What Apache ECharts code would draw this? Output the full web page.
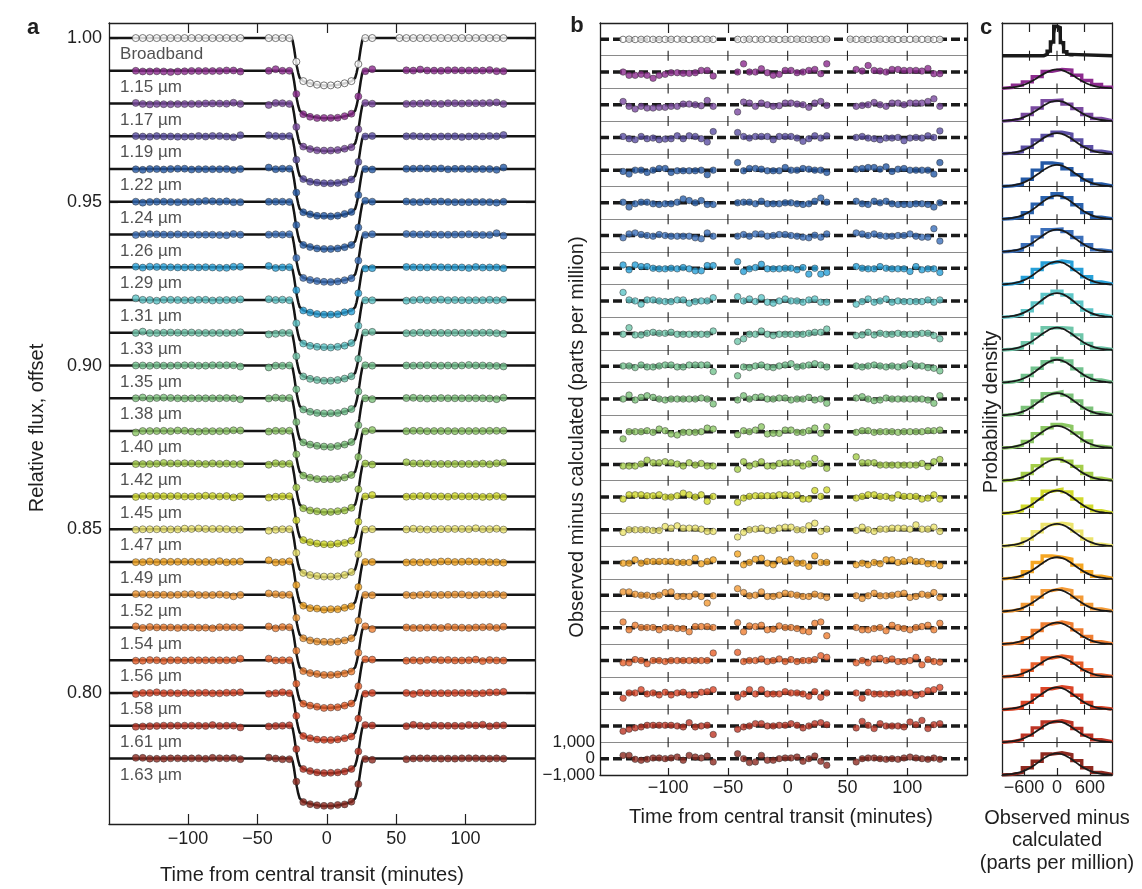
<!DOCTYPE html>
<html><head><meta charset="utf-8">
<script src="https://cdn.jsdelivr.net/npm/echarts@6/dist/echarts.min.js"></script>
<style>html,body{margin:0;padding:0;background:#fff;}#c{width:1142px;height:889px;}</style>
</head><body><div id="c"></div>
<script>
// ---------------- DATA ----------------
const channels = ['Broadband','1.15 µm','1.17 µm','1.19 µm','1.22 µm','1.24 µm','1.26 µm','1.29 µm','1.31 µm','1.33 µm','1.35 µm','1.38 µm','1.40 µm','1.42 µm','1.45 µm','1.47 µm','1.49 µm','1.52 µm','1.54 µm','1.56 µm','1.58 µm','1.61 µm','1.63 µm'];
const colors = ['#ffffff','#8c2b8e','#7a4aa0','#5a4ea3','#2459a5','#2a62ad','#3b6fba','#27a0d8','#5ec6c8','#6fc6aa','#73c38f','#7cc27a','#8cc764','#a4cd4a','#d1da2c','#ebe36d','#f5a623','#f39a36','#ef7e31','#e9602b','#db4527','#bd3424','#8f2a20'];
const baselines = [1.00,0.99,0.98,0.97,0.96,0.95,0.94,0.93,0.92,0.91,0.90,0.89,0.88,0.87,0.86,0.85,0.84,0.83,0.82,0.81,0.80,0.79,0.78];
const depths = [0.01445,0.0145,0.01445,0.0144,0.01445,0.0144,0.0145,0.01445,0.0145,0.0146,0.0147,0.0148,0.0148,0.0148,0.0147,0.0146,0.0146,0.0145,0.0145,0.0145,0.0144,0.0145,0.0145];

// observation times (minutes from central transit)
const tG1 = [-137.7,-132.7,-127.6,-122.6,-117.6,-112.6,-107.5,-102.5,-97.5,-92.4,-87.4,-82.4,-77.3,-72.3,-67.3,-62.3];
const tG2 = [-41.9,-36.9,-32.0,-27.0,-22.0,-17.0,-12.1,-7.1,-2.1,2.8,7.8,12.8,17.7,22.7,27.7,32.7];
const tG3bb = [52.3,57.3,62.3,67.3,72.3,77.3,82.3,87.3,92.3,97.3,102.3,107.3,112.3,117.3,122.3,127.3];
const tG3 = [57.3,62.3,67.3,72.3,77.3,82.3,87.3,92.3,97.3,102.3,107.3,112.3,117.3,122.3,127.3];
// fraction of transit depth at the second-visit times
const fracG2 = [0,0,0,0,0.5,0.91,0.955,0.985,1,1,0.985,0.955,0.91,0.55,0,0];
// transit model shape (fraction of depth)
const modelT = [-157,-25.6,-24.6,-23.6,-22.6,-21.6,-20.6,-19.6,-18.6,-17,-14,-10,-6,-2,0.4,3,7,11,15,18,19.4,20.4,21.4,22.4,23.4,24.4,25.4,26.4,150];
const modelFrac = [0,0,0.06,0.22,0.42,0.6,0.74,0.84,0.88,0.91,0.94,0.97,0.99,1.0,1.0,1.0,0.99,0.97,0.94,0.91,0.88,0.84,0.74,0.6,0.42,0.22,0.06,0,0];

// residuals, observed minus calculated (ppm), visit 1, visit 2, visit 3
const resid = [
 [0,10,-10,0,10,0,-10,0,0,10,0,-10,0,10,0,0, 0,-10,10,0,0,10,0,-10,0,0,10,0,0,-10,0,10, 10,0,0,-10,0,10,0,0,-10,0,0,10,0,0,-10,0],
 [0,-200,-200,-140,-200,-380,-200,-140,-40,-40,-80,-80,-40,100,100,-240, 0,500,0,0,200,-40,-200,-140,100,100,-40,0,100,160,-100,500, 160,60,400,100,60,0,160,160,100,100,100,60,220,-100,-100],
 [200,-100,-260,-100,-200,-200,-160,-160,-100,-100,40,40,0,-60,260,-100, -440,160,100,-100,100,0,-100,-60,100,100,40,0,-160,100,200,-40, -100,-40,0,140,0,-100,100,100,0,100,100,100,200,360,-100],
 [60,-80,-140,60,-80,-40,-140,-100,-80,100,-80,100,60,-80,-280,360, 300,60,-40,60,60,60,-140,60,60,60,-40,-240,-80,100,-40,100, 0,60,-40,-80,-140,-40,-40,0,-200,-40,0,-40,100,0,400],
 [-80,-240,0,0,-140,0,100,100,-140,-40,-40,-40,-40,0,-280,0, 460,-40,100,100,60,-40,-40,-40,160,0,0,100,60,0,0,-140, 60,100,160,160,60,200,-80,60,100,0,0,0,0,-240,460],
 [40,-260,-60,40,40,-60,-100,-60,-60,40,240,140,0,140,-100,-100, 0,40,40,-60,100,-60,-60,-60,0,0,-60,-100,-60,100,300,40, 100,-60,-100,100,0,100,-60,-100,-100,-100,-60,-60,-100,-260,0],
 [-140,100,160,60,0,-40,60,0,-40,-40,-40,-40,-140,-200,160,-40, -40,60,-40,100,100,-40,0,60,60,0,-40,-100,-140,20,-100,100, 160,100,0,100,0,-40,-40,0,0,100,-40,-100,-100,420,-340],
 [200,-100,200,100,100,0,-40,-40,0,-40,40,-40,-160,-160,160,160, 400,-200,-40,40,240,-40,-40,-40,0,0,-100,40,-360,0,-360,-260, 100,0,-40,-40,100,0,-40,-40,-40,-200,100,-100,-40,-40,-260],
 [520,60,0,-200,60,60,0,-40,-40,60,60,-140,-40,0,0,200, 260,0,120,-40,200,-80,-140,0,120,0,0,-80,60,120,-80,-80, -200,-40,120,-80,0,120,-80,0,-40,-40,-40,-40,60,-80,60],
 [-40,360,-80,-80,20,80,20,20,80,-40,-40,-40,-40,-40,-40,160, -480,-320,-40,-40,160,-40,-120,-40,-40,-40,-40,-40,20,80,80,280, -120,-80,80,-80,20,-40,-40,20,-40,-40,-40,20,20,-120,-320],
 [20,20,-80,80,-40,-40,20,80,80,-40,-40,80,80,80,80,-320, -580,-40,-80,20,80,-40,-80,20,80,160,-40,20,80,160,80,-40, 20,-40,20,80,20,-40,20,-40,20,160,20,20,-80,-120,-280],
 [0,240,-60,100,200,100,0,-60,0,0,0,0,0,60,0,-300, -60,200,0,100,140,0,0,60,60,-60,0,0,100,-60,0,-260, 60,140,0,-100,-60,60,0,0,0,0,0,0,-60,-260,200],
 [-440,0,0,0,60,-40,160,60,-140,-200,-40,-40,-40,0,220,160, -180,60,0,100,300,-140,-100,-100,100,100,-40,-40,60,220,-100,300, -40,60,60,-40,0,0,0,-40,0,0,0,0,60,60,100],
 [-100,-100,-100,20,260,100,100,160,100,20,-100,100,-40,60,-100,-100, -300,160,-100,20,160,-100,-100,60,100,100,100,-100,20,360,60,-240, 460,100,100,100,-40,-40,-40,-40,-40,-40,-40,60,-140,160,300],
 [-120,140,140,140,80,80,140,0,0,80,240,140,0,140,-260,40, -320,-60,40,80,80,80,80,140,140,80,140,-120,-120,400,40,440, -60,40,140,140,40,40,-60,140,40,40,40,-120,-60,140,-120],
 [-160,0,0,0,0,-40,-40,200,100,240,100,100,100,40,-100,-100, -440,-160,0,40,100,-40,-40,100,160,160,0,0,240,400,-100,40, -40,160,0,-100,40,40,100,100,100,40,300,40,40,160,-100],
 [-40,-40,160,-40,60,60,60,60,60,0,0,0,260,-80,60,160, 520,-140,0,200,260,-40,-140,160,60,200,-40,-40,-240,400,0,0, -140,-40,-140,0,-80,160,160,0,60,160,60,60,-80,-80,-200],
 [200,200,60,0,0,-80,0,160,200,-80,-80,-80,60,-80,-480,-40, 400,160,-40,0,200,-80,-80,0,120,60,0,-80,-80,60,-40,-140, -40,-200,-40,120,-40,-40,0,60,120,-140,-80,60,0,160,-140],
 [360,-120,160,20,20,20,-120,20,20,-40,-40,-240,80,80,80,20, 320,-240,120,80,160,-120,-80,120,20,20,-40,-180,-240,280,360,-480, 20,-120,-120,-40,20,-180,160,20,-40,-120,20,80,160,-120,280],
 [-140,-140,60,0,-200,0,0,-60,0,0,0,0,0,0,0,460, 500,-60,0,0,100,-60,0,100,-60,60,-60,0,0,60,300,200, -140,0,-140,100,140,0,100,-60,-60,0,200,-260,60,-60,-100],
 [-300,20,20,220,-40,20,-100,60,-100,20,60,-100,-100,60,100,220, -240,-40,220,-40,220,-40,-40,-40,100,20,20,-40,-180,100,-240,20, 20,-300,60,-40,-40,-40,-40,20,20,20,-140,-40,160,220,360],
 [-320,-200,-120,-60,40,40,40,40,40,0,-60,200,-60,0,40,-520, -200,-60,0,140,140,0,0,40,40,140,40,-120,0,140,200,80, -120,280,40,-160,140,0,0,0,-60,240,80,340,-160,80,140],
 [200,200,-40,-100,-40,40,40,0,40,100,-100,200,100,40,160,-200, 300,0,-240,-200,200,-100,-100,0,40,40,100,-160,0,160,-160,-400, -200,0,40,40,0,-40,0,-40,40,100,40,0,-40,40,-40]
];

// panel c histograms (fraction of row height), bins of 180 ppm
const histEdges = [-990,-810,-630,-450,-270,-90,90,270,450,630,810,990];
const hist = [
 null,
 [0.03,0.10,0.20,0.36,0.52,0.58,0.56,0.40,0.24,0.12,0.04],
 [0.02,0.08,0.20,0.40,0.62,0.64,0.52,0.38,0.20,0.08,0.02],
 [0.02,0.06,0.20,0.42,0.56,0.66,0.60,0.42,0.22,0.08,0.03],
 [0.02,0.06,0.22,0.50,0.72,0.68,0.54,0.36,0.20,0.08,0.02],
 [0.02,0.06,0.20,0.46,0.66,0.78,0.66,0.44,0.20,0.06,0.02],
 [0.02,0.06,0.22,0.46,0.68,0.70,0.62,0.44,0.22,0.06,0.02],
 [0.02,0.08,0.22,0.46,0.66,0.72,0.68,0.46,0.24,0.08,0.02],
 [0.02,0.08,0.20,0.44,0.70,0.80,0.68,0.46,0.22,0.08,0.02],
 [0.02,0.06,0.22,0.48,0.68,0.68,0.66,0.46,0.20,0.06,0.02],
 [0.02,0.08,0.22,0.44,0.64,0.74,0.66,0.42,0.22,0.08,0.02],
 [0.02,0.08,0.24,0.44,0.66,0.72,0.62,0.44,0.22,0.08,0.02],
 [0.02,0.08,0.20,0.44,0.62,0.72,0.66,0.46,0.22,0.06,0.02],
 [0.02,0.08,0.22,0.46,0.66,0.68,0.60,0.44,0.22,0.08,0.02],
 [0.02,0.08,0.22,0.44,0.68,0.74,0.66,0.44,0.22,0.08,0.02],
 [0.02,0.08,0.22,0.44,0.66,0.70,0.66,0.46,0.22,0.06,0.02],
 [0.02,0.08,0.22,0.50,0.70,0.66,0.60,0.42,0.22,0.08,0.02],
 [0.02,0.08,0.22,0.44,0.64,0.70,0.64,0.44,0.22,0.08,0.02],
 [0.02,0.06,0.20,0.42,0.62,0.68,0.62,0.44,0.24,0.08,0.02],
 [0.02,0.06,0.20,0.40,0.58,0.64,0.60,0.42,0.22,0.06,0.02],
 [0.02,0.06,0.22,0.44,0.64,0.70,0.66,0.44,0.22,0.06,0.02],
 [0.02,0.08,0.22,0.44,0.62,0.66,0.60,0.42,0.22,0.08,0.02],
 [0.02,0.08,0.22,0.42,0.64,0.68,0.62,0.44,0.22,0.08,0.02]
];
const bbEdges = [-240,-180,-120,-60,0,60,120,180,240];
const bbHist = [0.04,0.14,0.42,0.9,0.86,0.4,0.12,0.04];
const gaussX = [-1000,-900,-800,-700,-600,-500,-400,-300,-200,-100,0,100,200,300,400,500,600,700,800,900,1000];
const gaussShape = [0.01,0.024,0.053,0.105,0.192,0.317,0.48,0.662,0.832,0.955,1,0.955,0.832,0.662,0.48,0.317,0.192,0.105,0.053,0.024,0.01];
const bbGaussX = [-300,-250,-200,-150,-100,-50,0,50,100,150,200,250,300];
const bbGaussShape = [0,0.002,0.017,0.1,0.36,0.775,1,0.775,0.36,0.1,0.017,0.002,0];
const gaussPeak = [0.9,0.58,0.62,0.63,0.66,0.72,0.68,0.70,0.74,0.68,0.70,0.68,0.68,0.66,0.70,0.68,0.66,0.67,0.66,0.62,0.68,0.64,0.66];

const timeTicks = [-100,-50,0,50,100];
const fluxTicks = [0.80,0.85,0.90,0.95,1.00];
const residTicksOuter = [-1000,1000];
const residTicksZero = [0];
const histTopTicks = [-500,0,500];
const histBottomTicks = [-600,0,600];

// ---------------- CHART ----------------
const FONT = "'Liberation Sans', Arial, Helvetica, sans-serif";
const INK = '#1f1f1f';
const aX = [-157,150], aY = [0.76,1.0046];
const bY = [-1000,45000], rowStep = 2000;
const cX = [-1000,1000];
const N = channels.length;
const minusFmt = v => (v < 0 ? '\u2212' : '') + Math.abs(v);
const thouFmt = v => v === 0 ? '0' : (v < 0 ? '\u2212' : '') + Math.abs(v).toLocaleString('en-US');

function timesFor(i){ return i === 0 ? tG1.concat(tG2, tG3bb) : tG1.concat(tG2, tG3); }
function fracFor(i){
  const z1 = tG1.map(()=>0), z3 = (i===0?tG3bb:tG3).map(()=>0);
  return z1.concat(fracG2, z3);
}
const axLine = {show:true, onZero:false, lineStyle:{color:INK, width:1.3}};
const lbl = {fontSize:18, color:INK, fontFamily:FONT, hideOverlap:false, showMinLabel:true, showMaxLabel:true};

const xAxis = [
 {gridIndex:0,type:'value',min:aX[0],max:aX[1],position:'bottom',axisLine:axLine,
  axisTick:{show:true,inside:true,length:10,customValues:timeTicks,lineStyle:{color:INK,width:1.2}},
  axisLabel:Object.assign({customValues:timeTicks,formatter:minusFmt,margin:6},lbl),splitLine:{show:false}},
 {gridIndex:0,type:'value',min:aX[0],max:aX[1],position:'top',axisLine:axLine,
  axisTick:{show:true,inside:true,length:10,customValues:timeTicks,lineStyle:{color:INK,width:1.2}},
  axisLabel:{show:false},splitLine:{show:false}},
 {gridIndex:1,type:'value',min:aX[0],max:aX[1],position:'bottom',axisLine:axLine,
  axisTick:{show:true,inside:true,length:7,customValues:timeTicks,lineStyle:{color:INK,width:1.2}},
  axisLabel:Object.assign({customValues:timeTicks,formatter:minusFmt,margin:4},lbl),splitLine:{show:false}},
 {gridIndex:1,type:'value',min:aX[0],max:aX[1],position:'top',axisLine:axLine,
  axisTick:{show:true,inside:true,length:10,customValues:timeTicks,lineStyle:{color:INK,width:1.2}},
  axisLabel:{show:false},splitLine:{show:false}},
 {gridIndex:2,type:'value',min:cX[0],max:cX[1],position:'bottom',axisLine:axLine,
  axisTick:{show:true,inside:true,length:7,customValues:histBottomTicks,lineStyle:{color:INK,width:1.2}},
  axisLabel:Object.assign({customValues:histBottomTicks,formatter:minusFmt,margin:4},lbl),splitLine:{show:false}},
 {gridIndex:2,type:'value',min:cX[0],max:cX[1],position:'top',axisLine:axLine,
  axisTick:{show:true,inside:true,length:9,customValues:histTopTicks,lineStyle:{color:INK,width:1.2}},
  axisLabel:{show:false},splitLine:{show:false}}
];
const residLabelAxis = vals => ({gridIndex:1,type:'value',min:bY[0],max:bY[1],position:'left',
  axisLine:{show:false},axisTick:{show:false},splitLine:{show:false},
  axisLabel:Object.assign({customValues:vals,formatter:thouFmt,margin:5},lbl,{fontSize:17})});
const yAxis = [
 {gridIndex:0,type:'value',min:aY[0],max:aY[1],position:'left',axisLine:axLine,
  axisTick:{show:true,inside:true,length:9,customValues:fluxTicks,lineStyle:{color:INK,width:1.2}},
  axisLabel:Object.assign({customValues:fluxTicks,formatter:v=>v.toFixed(2),margin:7},lbl),splitLine:{show:false}},
 {gridIndex:0,type:'value',min:aY[0],max:aY[1],position:'right',axisLine:axLine,
  axisTick:{show:true,inside:true,length:9,customValues:fluxTicks,lineStyle:{color:INK,width:1.2}},
  axisLabel:{show:false},splitLine:{show:false}},
 {gridIndex:1,type:'value',min:bY[0],max:bY[1],interval:rowStep,position:'left',axisLine:axLine,
  axisTick:{show:false},axisLabel:{show:false},
  splitLine:{show:true,lineStyle:{color:'#8a8a8a',width:1}}},
 {gridIndex:1,type:'value',min:bY[0],max:bY[1],position:'right',axisLine:axLine,axisTick:{show:false},axisLabel:{show:false},splitLine:{show:false}},
 {gridIndex:2,type:'value',min:0,max:N,interval:1,position:'left',axisLine:axLine,axisTick:{show:false},axisLabel:{show:false},
  splitLine:{show:true,lineStyle:{color:'#2a2a2a',width:1}}},
 {gridIndex:2,type:'value',min:0,max:N,position:'right',axisLine:axLine,axisTick:{show:false},axisLabel:{show:false},splitLine:{show:false}},
 residLabelAxis(residTicksOuter),
 residLabelAxis(residTicksZero)
];

const series = [];
function markerStyle(i){
  return i === 0 ? {color:'#ffffff',borderColor:'#555',borderWidth:1}
                 : {color:colors[i],borderColor:'rgba(45,45,45,0.75)',borderWidth:0.8};
}
// Panel a
for (let i=0;i<N;i++){
  const base = baselines[i], d = depths[i];
  series.push({type:'line',xAxisIndex:0,yAxisIndex:0,silent:true,showSymbol:false,symbol:'none',z:2,
    data:modelT.map((t,k)=>[t, base - d*modelFrac[k]]),lineStyle:{color:'#151515',width:2.5}});
  const ts = timesFor(i), fr = fracFor(i), r = resid[i];
  series.push({type:'scatter',xAxisIndex:0,yAxisIndex:0,silent:true,symbolSize:7,z:3,
    data:ts.map((t,k)=>[t, base - d*fr[k] + r[k]*1e-6]),itemStyle:markerStyle(i)});
}
series.push({type:'scatter',xAxisIndex:0,yAxisIndex:0,silent:true,symbolSize:0,z:4,
  data:channels.map((c,i)=>({name:c,value:[-149, baselines[i]-0.005]})),
  label:{show:true,position:'right',distance:0,formatter:'{b}',fontSize:17,color:'#262626',fontFamily:FONT}});

// Panel b
const bTickData = [];
for (let i=0;i<N;i++){
  const off = (N-1-i)*rowStep;
  series.push({type:'line',xAxisIndex:2,yAxisIndex:2,silent:true,showSymbol:false,symbol:'none',z:2,
    data:[[aX[0],off],[aX[1],off]],lineStyle:{color:'#1a1a1a',width:3.5,type:[9,4]}});
  const ts = timesFor(i), r = resid[i];
  series.push({type:'scatter',xAxisIndex:2,yAxisIndex:2,silent:true,symbolSize:6.5,z:3,
    data:ts.map((t,k)=>[t, off + r[k]]),itemStyle:markerStyle(i)});
  if (i>0) timeTicks.forEach(x=>bTickData.push([x, off + rowStep/2, 0]));
}
function tickRender(params, api){
  const p = api.coord([api.value(0), api.value(1)]);
  const mode = api.value(2);
  const up = mode === 1 ? 0 : 5;
  return {type:'line',shape:{x1:p[0],y1:p[1]-up,x2:p[0],y2:p[1]+5},style:{stroke:INK,lineWidth:1.1}};
}
series.push({type:'custom',xAxisIndex:2,yAxisIndex:2,silent:true,z:5,renderItem:tickRender,encode:{x:0,y:1},data:bTickData});

// Panel c
const cTickData = [];
for (let i=0;i<N;i++){
  const base = N-1-i;
  const edges = i===0 ? bbEdges : histEdges;
  const h = i===0 ? bbHist : hist[i];
  const pts = [[cX[0],base],[edges[0],base]];
  for (let k=0;k<h.length;k++){ pts.push([edges[k],base+h[k]]); pts.push([edges[k+1],base+h[k]]); }
  pts.push([edges[edges.length-1],base]); pts.push([cX[1],base]);
  const gx = i===0 ? bbGaussX : gaussX, gs = i===0 ? bbGaussShape : gaussShape;
  series.push({type:'line',xAxisIndex:4,yAxisIndex:4,silent:true,showSymbol:false,symbol:'none',z:2,
    data:pts,lineStyle:{color:i===0?'#1a1a1a':colors[i],width:3.4,join:'miter'}});
  series.push({type:'line',xAxisIndex:4,yAxisIndex:4,silent:true,showSymbol:false,symbol:'none',z:3,smooth:true,
    data:gx.map((x,k)=>[x, base + gaussPeak[i]*gs[k]]),lineStyle:{color:'#1a1a1a',width:1.8}});
  if (i>0){
    if (i===N-1){
      histBottomTicks.forEach(x=>cTickData.push([x, base+1, x===0?0:1]));
    } else {
      histTopTicks.forEach(x=>cTickData.push([x, base+1, 0]));
    }
  }
}
series.push({type:'custom',xAxisIndex:4,yAxisIndex:4,silent:true,z:5,renderItem:tickRender,encode:{x:0,y:1},data:cTickData});

function txt(x,y,text,opt){
  return Object.assign({type:'text',x:x,y:y,silent:true,
    style:Object.assign({text:text,fontSize:20,fontFamily:FONT,fill:INK,align:'center',verticalAlign:'middle'},opt&&opt.style||{})},
    opt&&opt.rot?{rotation:opt.rot}:{});
}
const graphic = [
  txt(33,28,'a',{style:{fontSize:22,fontWeight:'bold'}}),
  txt(577,26,'b',{style:{fontSize:22,fontWeight:'bold'}}),
  txt(986,28,'c',{style:{fontSize:22,fontWeight:'bold'}}),
  txt(37,428,'Relative flux, offset',{rot:Math.PI/2}),
  txt(312,875,'Time from central transit (minutes)'),
  txt(781,817,'Time from central transit (minutes)'),
  txt(577,437,'Observed minus calculated (parts per million)',{rot:Math.PI/2}),
  txt(991,412,'Probability density',{rot:Math.PI/2}),
  txt(1057,818,'Observed minus'),
  txt(1057,840,'calculated'),
  txt(1057,863,'(parts per million)')
];

const chart = echarts.init(document.getElementById('c'));
chart.setOption({
  animation:false,
  backgroundColor:'#ffffff',
  grid:[{left:109,top:23,width:426,height:801},{left:600,top:23,width:367,height:752},{left:1002,top:23,width:110,height:752}],
  xAxis:xAxis, yAxis:yAxis, series:series, graphic:graphic
});
</script></body></html>
